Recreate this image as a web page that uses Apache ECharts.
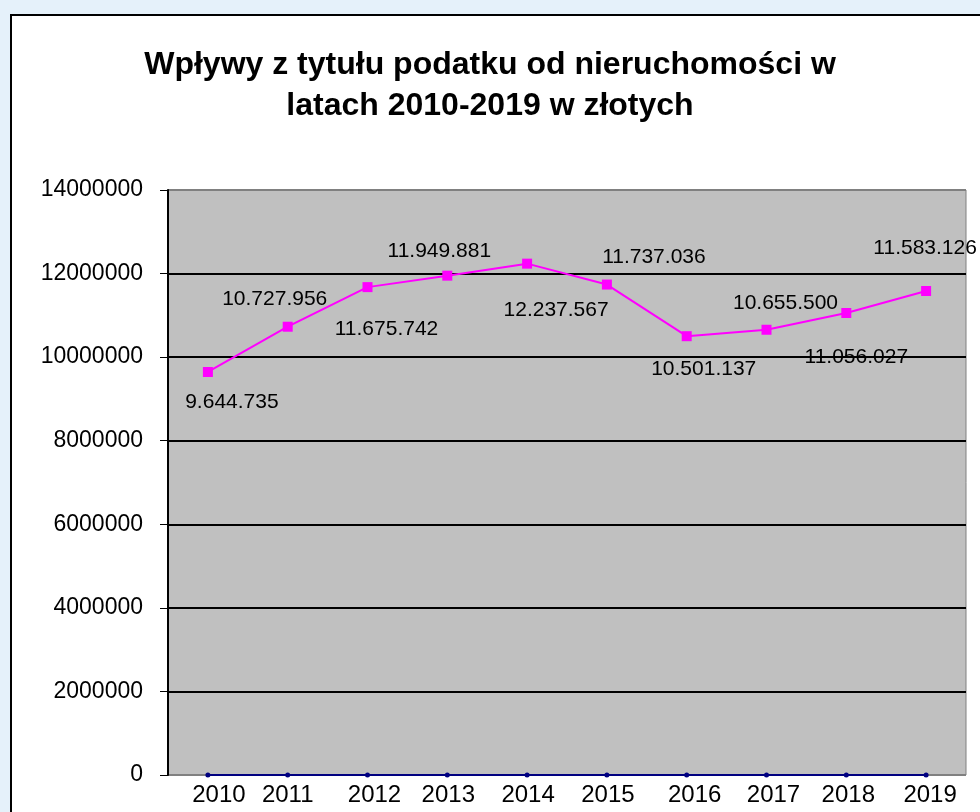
<!DOCTYPE html>
<html>
<head>
<meta charset="utf-8">
<script src="https://cdn.jsdelivr.net/npm/echarts@6/dist/echarts.min.js"></script>
<style>
  html, body { margin: 0; padding: 0; background: #e5f1fa; }
  #chart { width: 980px; height: 812px; }
</style>
</head>
<body>
<div id="chart"></div>
<script>
// lata
var years = ['2010', '2011', '2012', '2013', '2014', '2015', '2016', '2017', '2018', '2019']
// wplywy z podatku od nieruchomosci (zl)
var wplywy = [9644735, 10727956, 11675742, 11949881, 12237567, 11737036, 10501137, 10655500, 11056027, 11583126]
// druga seria - same zera (linia przy osi)
var zera = [0, 0, 0, 0, 0, 0, 0, 0, 0, 0]
// podpisy danych
var podpisy = ['9.644.735', '10.727.956', '11.675.742', '11.949.881', '12.237.567', '11.737.036', '10.501.137', '10.655.500', '11.056.027', '11.583.126']

// przesuniecia podpisow wzgledem punktu (styl, nie dane)
var labelOffsets = [[24, 30], [-13, -28], [19, 42], [-8, -24], [29, 47], [47, -27], [17, 33], [19, -27], [10, 44], [-1, -43]]
// przesuniecia etykiet osi X w poziomie (jak w Excelu)
var xLabelShift = [11, 0, 7, 1, 1, 1, 8, 7, 2, 4]

var SYM = 10

var chart = echarts.init(document.getElementById('chart'))

chart.setOption({
  animation: false,
  backgroundColor: '#e5f1fa',
  graphic: [{
    type: 'rect',
    z: -10,
    shape: { x: 11, y: 15, width: 1000, height: 820 },
    style: { fill: '#ffffff', stroke: '#000000', lineWidth: 2 }
  }],
  title: {
    text: 'Wpływy z tytułu podatku od nieruchomości w\nlatach 2010-2019 w złotych',
    left: 'center',
    top: 40,
    textStyle: {
      fontFamily: 'Liberation Sans',
      fontWeight: 'bold',
      fontSize: 32,
      lineHeight: 41,
      color: '#000',
      align: 'center'
    }
  },
  grid: {
    left: 168,
    right: 14,
    top: 190,
    bottom: 37,
    show: true,
    backgroundColor: '#c0c0c0',
    borderColor: '#808080',
    borderWidth: 1
  },
  xAxis: {
    type: 'category',
    data: years.map(function (y, i) {
      return { value: y, textStyle: { padding: [0, 0, 0, xLabelShift[i] * 2] } }
    }),
    boundaryGap: true,
    axisLine: { show: false },
    axisTick: { show: false },
    axisLabel: {
      color: '#000',
      fontFamily: 'Liberation Sans',
      fontSize: 24,
      margin: 8
    }
  },
  yAxis: {
    type: 'value',
    min: 0,
    max: 14000000,
    interval: 2000000,
    axisLine: { show: true, lineStyle: { color: '#000', width: 2 } },
    axisTick: { show: true, length: 8, lineStyle: { color: '#000', width: 1 } },
    axisLabel: {
      color: '#000',
      fontFamily: 'Liberation Sans',
      fontSize: 23,
      margin: 25,
      formatter: function (v) { return String(v) }
    },
    splitLine: {
      show: true,
      lineStyle: {
        color: ['#808080', '#000', '#000', '#000', '#000', '#000', '#000', '#808080'],
        width: 2
      }
    }
  },
  series: [
    {
      name: 'zero',
      type: 'line',
      data: zera,
      symbol: 'circle',
      symbolSize: 5,
      itemStyle: { color: '#000080' },
      lineStyle: { color: '#000080', width: 2 }
    },
    {
      name: 'Wpływy',
      type: 'line',
      data: wplywy.map(function (v, i) {
        return {
          value: v,
          label: {
            position: [SYM / 2 + labelOffsets[i][0], SYM / 2 + labelOffsets[i][1]]
          }
        }
      }),
      symbol: 'rect',
      symbolSize: SYM,
      showAllSymbol: true,
      itemStyle: { color: '#ff00ff' },
      lineStyle: { color: '#ff00ff', width: 2 },
      label: {
        show: true,
        align: 'center',
        verticalAlign: 'middle',
        color: '#000',
        fontFamily: 'Liberation Sans',
        fontSize: 21,
        formatter: function (p) {
          return podpisy[p.dataIndex]
        }
      },
      labelLayout: { hideOverlap: false }
    }
  ]
})
</script>
</body>
</html>
